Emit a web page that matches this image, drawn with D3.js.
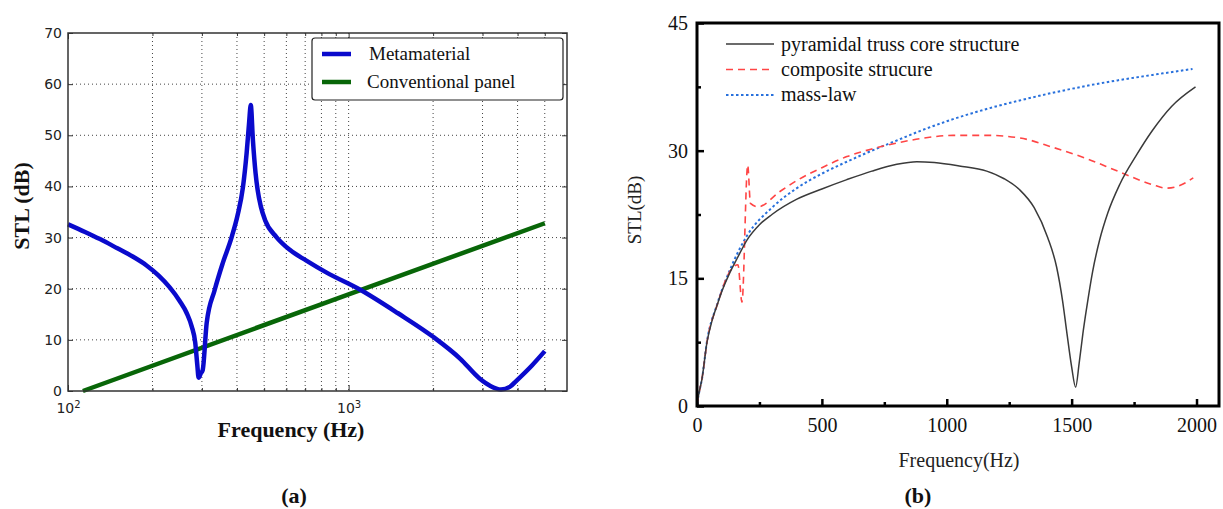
<!DOCTYPE html>
<html>
<head>
	<meta charset='utf-8'>
	<script src="https://cdnjs.cloudflare.com/ajax/libs/d3/7.8.5/d3.min.js"></script>
	<style>
	body { margin:0; background:#fff; }
	svg { display:block; }
	</style>
</head>
<body>
<script>

// ---- panel (a) data : log frequency axis
var metaFreq = [100, 115, 130, 150, 170, 190, 210, 230, 250, 265, 276, 284, 289, 292, 297, 302, 312, 333, 356, 383, 403, 420, 433, 442, 448, 456, 466, 474, 487, 504, 553, 617, 707, 832, 1100, 1500, 2000, 2500, 2920, 3200, 3490, 3750, 3960, 4500, 5000];
var metaStl  = [32.6, 31.1, 29.7, 27.9, 26.3, 24.6, 22.6, 20.3, 17.6, 15.2, 12.6, 9.5, 5, 2.6, 3.4, 4.1, 13.3, 19.7, 25, 30.1, 34.6, 39.8, 46.5, 52.5, 55.9, 49, 42.6, 39.3, 36, 33.4, 30.1, 27.6, 25.5, 23.2, 19.8, 15.2, 10.6, 6.3, 2.5, 1.0, 0.3, 0.8, 2, 5, 7.8];
var convFreq = [113, 1000, 5000];
var convStl  = [0, 18.9, 32.8];
var aYTicks = [0, 10, 20, 30, 40, 50, 60, 70];
var aXMajor = [100, 1000];
var aXMinor = [200, 300, 400, 500, 600, 700, 800, 900, 2000, 3000, 4000, 5000];
var aLegend = ['Metamaterial', 'Conventional panel'];

// ---- panel (b) data
var trussFreq = [0, 10, 20, 40, 60, 80, 100, 132, 160, 200, 250, 300, 400, 500, 600, 700, 800, 880, 950, 1050, 1160, 1230, 1292, 1350, 1404, 1440, 1464, 1480, 1500, 1516, 1530, 1545, 1560, 1584, 1612, 1645, 1692, 1760, 1824, 1900, 1996];
var trussStl  = [0.3, 1.8, 3.2, 7.5, 10, 11.8, 13.5, 15.7, 17.3, 19.5, 21.3, 22.5, 24.3, 25.5, 26.6, 27.6, 28.4, 28.7, 28.6, 28.2, 27.6, 26.7, 25.4, 23.3, 19.8, 16.3, 12.3, 8.8, 4.6, 2.2, 5, 8.5, 11.5, 15.8, 19.5, 22.7, 26, 29.5, 32.4, 35.2, 37.5];
var compFreq = [0, 10, 20, 40, 80, 136, 164, 180, 203, 214, 244, 332, 400, 500, 600, 700, 800, 892, 1025, 1160, 1292, 1424, 1557, 1692, 1824, 1880, 1933, 1987];
var compStl  = [0.3, 1.8, 3.2, 7.5, 11.8, 16, 16.6, 12.2, 28.3, 23.8, 23.4, 25.2, 26.5, 28, 29.3, 30.2, 30.9, 31.4, 31.8, 31.8, 31.5, 30.4, 29.1, 27.5, 26, 25.6, 25.9, 26.8];
var massFreq = [0, 10, 20, 40, 80, 132, 200, 300, 400, 500, 600, 700, 800, 892, 1025, 1160, 1292, 1424, 1557, 1692, 1824, 1984];
var massStl  = [0.3, 1.8, 3.2, 7.6, 11.9, 16, 20, 23.3, 25.6, 27.3, 28.7, 30, 31.2, 32.3, 33.7, 34.9, 35.9, 36.8, 37.6, 38.3, 38.9, 39.6];
var bXTicks = [0, 500, 1000, 1500, 2000];
var bXMinor = [250, 750, 1250, 1750];
var bYTicks = [0, 15, 30, 45];
var bYMinor = [7.5, 22.5, 37.5];
var bLegend = ['pyramidal truss core structure', 'composite strucure', 'mass-law'];

var svg = d3.select('body').append('svg').attr('width', 1223).attr('height', 509);
svg.append('rect').attr('width', 1223).attr('height', 509).attr('fill', '#fff');

// ================= panel (a)
var xA = d3.scaleLog().domain([100, 6000]).range([68, 567]);
var yA = d3.scaleLinear().domain([0, 70]).range([391, 33]);
var pa = svg.append('g');

// dotted grid
pa.selectAll('.gx').data(aXMinor.concat([1000])).enter().append('line')
	.attr('x1', function (d) { return xA(d); }).attr('x2', function (d) { return xA(d); })
	.attr('y1', 33).attr('y2', 391)
	.attr('stroke', '#444').attr('stroke-width', 1).attr('stroke-dasharray', '1,3');
pa.selectAll('.gy').data(aYTicks.slice(1, -1)).enter().append('line')
	.attr('x1', 68).attr('x2', 567)
	.attr('y1', function (d) { return yA(d); }).attr('y2', function (d) { return yA(d); })
	.attr('stroke', '#444').attr('stroke-width', 1).attr('stroke-dasharray', '1,3');

var fontA = '"DejaVu Sans", sans-serif';
function styleA(g, hideText) {
	g.select('.domain').remove();
	g.selectAll('line').attr('stroke', '#333');
	g.selectAll('text').attr('font-family', fontA).attr('font-size', 14).attr('fill', '#222');
	if (hideText) g.selectAll('text').remove();
}
pa.append('g').attr('transform', 'translate(68,0)')
	.call(d3.axisLeft(yA).tickValues(aYTicks).tickSize(-5).tickPadding(6)).call(styleA);
pa.append('g').attr('transform', 'translate(567,0)')
	.call(d3.axisRight(yA).tickValues(aYTicks).tickSize(-5)).call(styleA, true);
pa.append('g').attr('transform', 'translate(0,391)')
	.call(d3.axisBottom(xA).tickValues(aXMinor).tickSize(-3)).call(styleA, true);
pa.append('g').attr('transform', 'translate(0,33)')
	.call(d3.axisTop(xA).tickValues(aXMinor).tickSize(-3)).call(styleA, true);
pa.append('g').attr('transform', 'translate(0,33)')
	.call(d3.axisTop(xA).tickValues(aXMajor).tickSize(-6)).call(styleA, true);
var xAx = pa.append('g').attr('transform', 'translate(0,391)')
	.call(d3.axisBottom(xA).tickValues(aXMajor).tickSize(-6).tickPadding(12)).call(styleA);
xAx.selectAll('text').each(function (d) {
	var t = d3.select(this).text(null);
	t.append('tspan').text('10');
	t.append('tspan').attr('dy', '-0.45em').attr('font-size', 10).text(Math.round(Math.log10(d)));
});

var lineA = d3.line().x(function (d) { return xA(d[0]); }).y(function (d) { return yA(d[1]); }).curve(d3.curveMonotoneX);
pa.append('path').datum(d3.zip(convFreq, convStl)).attr('d', lineA)
	.attr('fill', 'none').attr('stroke', '#086608').attr('stroke-width', 4.5);
pa.append('path').datum(d3.zip(metaFreq, metaStl)).attr('d', lineA)
	.attr('fill', 'none').attr('stroke', '#0a0acc').attr('stroke-width', 4.5).attr('stroke-linejoin', 'round');

pa.append('rect').attr('x', 68).attr('y', 33).attr('width', 499).attr('height', 358)
	.attr('fill', 'none').attr('stroke', '#333').attr('stroke-width', 1.5);

// legend (a)
var legA = pa.append('g');
legA.append('rect').attr('x', 312).attr('y', 38).attr('width', 251).attr('height', 62).attr('rx', 3)
	.attr('fill', '#fff').attr('stroke', '#222').attr('stroke-width', 1.2);
var aCols = ['#0a0acc', '#086608'];
legA.selectAll('.l').data(aLegend).enter().append('line')
	.attr('x1', 322).attr('x2', 351)
	.attr('y1', function (d, i) { return 54 + i * 28; }).attr('y2', function (d, i) { return 54 + i * 28; })
	.attr('stroke', function (d, i) { return aCols[i]; }).attr('stroke-width', 4.5);
legA.selectAll('.t').data(aLegend).enter().append('text')
	.attr('x', function (d, i) { return i == 0 ? 369 : 367; })
	.attr('y', function (d, i) { return 60 + i * 28; })
	.attr('font-family', '"Liberation Serif", serif').attr('font-size', 19).attr('fill', '#111')
	.text(function (d) { return d; });

var serifB = '"Liberation Serif", "Times New Roman", serif';
pa.append('text').attr('transform', 'translate(29,206) rotate(-90)').attr('text-anchor', 'middle')
	.attr('font-family', serifB).attr('font-weight', 'bold').attr('font-size', 22).attr('fill', '#111')
	.text('STL (dB)');
pa.append('text').attr('x', 291).attr('y', 437).attr('text-anchor', 'middle')
	.attr('font-family', serifB).attr('font-weight', 'bold').attr('font-size', 22).attr('fill', '#111')
	.text('Frequency (Hz)');
pa.append('text').attr('x', 294).attr('y', 503).attr('text-anchor', 'middle')
	.attr('font-family', serifB).attr('font-weight', 'bold').attr('font-size', 22).attr('fill', '#111')
	.text('(a)');

// ================= panel (b)
var xB = d3.scaleLinear().domain([0, 2090]).range([697, 1219]);
var yB = d3.scaleLinear().domain([0, 45]).range([406, 23]);
var pb = svg.append('g');

function styleB(g, hideText) {
	g.select('.domain').remove();
	g.selectAll('line').attr('stroke', '#000').attr('stroke-width', 2.5);
	g.selectAll('text').attr('font-family', serifB).attr('font-size', 20).attr('fill', '#111');
	if (hideText) g.selectAll('text').remove();
}
pb.append('g').attr('transform', 'translate(0,406)')
	.call(d3.axisBottom(xB).tickValues(bXTicks).tickFormat(d3.format('d')).tickSize(-7).tickPadding(12)).call(styleB);
pb.append('g').attr('transform', 'translate(0,406)')
	.call(d3.axisBottom(xB).tickValues(bXMinor).tickSize(-4)).call(styleB, true);
pb.append('g').attr('transform', 'translate(697,0)')
	.call(d3.axisLeft(yB).tickValues(bYTicks).tickFormat(d3.format('d')).tickSize(-7).tickPadding(9)).call(styleB);
pb.append('g').attr('transform', 'translate(697,0)')
	.call(d3.axisLeft(yB).tickValues(bYMinor).tickSize(-4)).call(styleB, true);

var lineB = d3.line().x(function (d) { return xB(d[0]); }).y(function (d) { return yB(d[1]); }).curve(d3.curveMonotoneX);
var bStyles = [
	{ c: '#3a3a3a', w: 1.5, dash: null },
	{ c: '#ff4545', w: 1.6, dash: '7,5' },
	{ c: '#2870dc', w: 2, dash: '2.5,2.5' }
];
var bData = [d3.zip(trussFreq, trussStl), d3.zip(compFreq, compStl), d3.zip(massFreq, massStl)];
pb.selectAll('.curve').data([2, 1, 0]).enter().append('path')
	.attr('d', function (k) { return lineB(bData[k]); })
	.attr('fill', 'none')
	.attr('stroke', function (k) { return bStyles[k].c; })
	.attr('stroke-width', function (k) { return bStyles[k].w; })
	.attr('stroke-dasharray', function (k) { return bStyles[k].dash; });

pb.append('rect').attr('x', 697).attr('y', 23).attr('width', 522).attr('height', 383)
	.attr('fill', 'none').attr('stroke', '#000').attr('stroke-width', 3);

// legend (b)
var legB = pb.append('g');
legB.selectAll('.l').data(bLegend).enter().append('line')
	.attr('x1', 726).attr('x2', 774)
	.attr('y1', function (d, i) { return 44 + i * 25.5; }).attr('y2', function (d, i) { return 44 + i * 25.5; })
	.attr('stroke', function (d, i) { return bStyles[i].c; })
	.attr('stroke-width', function (d, i) { return bStyles[i].w; })
	.attr('stroke-dasharray', function (d, i) { return bStyles[i].dash; });
legB.selectAll('.t').data(bLegend).enter().append('text')
	.attr('x', 781).attr('y', function (d, i) { return 51 + i * 25; })
	.attr('font-family', serifB).attr('font-size', 20).attr('fill', '#111')
	.text(function (d) { return d; });

pb.append('text').attr('transform', 'translate(641,210) rotate(-90)').attr('text-anchor', 'middle')
	.attr('font-family', serifB).attr('font-size', 19).attr('fill', '#222').text('STL(dB)');
pb.append('text').attr('x', 959).attr('y', 467).attr('text-anchor', 'middle')
	.attr('font-family', serifB).attr('font-size', 20).attr('fill', '#222').text('Frequency(Hz)');
pb.append('text').attr('x', 918).attr('y', 503).attr('text-anchor', 'middle')
	.attr('font-family', serifB).attr('font-weight', 'bold').attr('font-size', 22).attr('fill', '#111').text('(b)');

</script>
</body>
</html>
